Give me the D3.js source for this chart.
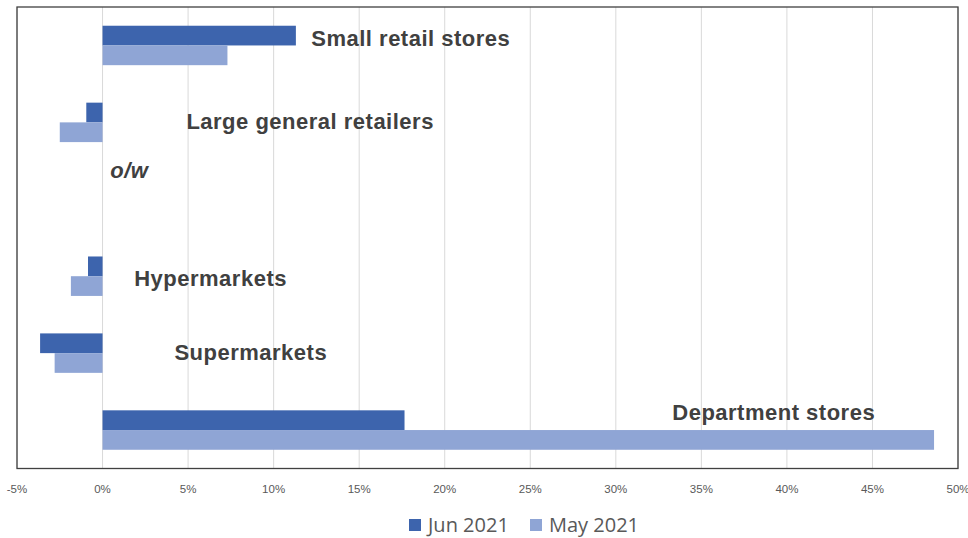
<!DOCTYPE html>
<html>
<head>
<meta charset="utf-8">
<script src="https://cdn.jsdelivr.net/npm/d3@7"></script>
<style>
  body { margin: 0; background: #fff; }
  svg { display: block; }
</style>
</head>
<body>
<div id="chart"></div>
<script>
// categories top to bottom (o/w is an empty row)
var categories = ["Small retail stores", "Large general retailers", "o/w", "Hypermarkets", "Supermarkets", "Department stores"];
var seriesNames = ["Jun 2021", "May 2021"];
var jun2021 = [11.3, -0.95, null, -0.85, -3.65, 17.65];
var may2021 = [7.3, -2.5, null, -1.85, -2.8, 48.6];
var xTicks = [-5, 0, 5, 10, 15, 20, 25, 30, 35, 40, 45, 50];

var colors = ["#3d64ad", "#8fa5d5"];

var width = 968, height = 538;
var margin = { top: 7, right: 10, bottom: 70, left: 17 };

var svg = d3.select("#chart").append("svg")
    .attr("width", width)
    .attr("height", height);

var x = d3.scaleLinear().domain([-5, 50]).range([margin.left, 958]);
var y = d3.scaleBand().domain(categories).range([margin.top, 468.5]);
var sub = d3.scaleBand().domain(seriesNames).range([0, y.bandwidth()]).paddingOuter(0.95);

// gridlines
svg.append("g").selectAll("line")
    .data(xTicks)
    .enter().append("line")
    .attr("x1", d => x(d)).attr("x2", d => x(d))
    .attr("y1", margin.top).attr("y2", 468.5)
    .attr("stroke", "#d9d9d9").attr("stroke-width", 1);

// bars
var series = [jun2021, may2021];
series.forEach(function(vals, si) {
    svg.append("g").selectAll("rect")
        .data(categories.map((c, i) => ({ c: c, v: vals[i] })).filter(d => d.v != null))
        .enter().append("rect")
        .attr("x", d => x(Math.min(0, d.v)))
        .attr("y", d => y(d.c) + sub(seriesNames[si]))
        .attr("width", d => Math.abs(x(d.v) - x(0)))
        .attr("height", sub.bandwidth())
        .attr("fill", colors[si]);
});

// plot frame
svg.append("rect")
    .attr("x", margin.left).attr("y", margin.top)
    .attr("width", 958 - margin.left).attr("height", 468.5 - margin.top)
    .attr("fill", "none").attr("stroke", "#404040").attr("stroke-width", 1.3);

// x axis labels
svg.append("g").selectAll("text")
    .data(xTicks)
    .enter().append("text")
    .attr("x", d => x(d))
    .attr("y", 493)
    .attr("text-anchor", "middle")
    .attr("font-family", "Liberation Sans, Arial, sans-serif")
    .attr("font-size", 11.5)
    .attr("fill", "#595959")
    .text(d => d + "%");

// category labels placed beside the bars (x in %, dy from band centre)
var labelPlace = {
    "Small retail stores": [12.2, 1],
    "Large general retailers": [4.9, 7],
    "o/w": [0.45, -21],
    "Hypermarkets": [1.85, 9.5],
    "Supermarkets": [4.2, 7],
    "Department stores": [33.3, -10]
};
svg.append("g").selectAll("text")
    .data(categories)
    .enter().append("text")
    .attr("x", d => x(labelPlace[d][0]))
    .attr("y", d => y(d) + y.bandwidth() / 2 + labelPlace[d][1])
    .attr("font-family", "Liberation Sans, Arial, sans-serif")
    .attr("font-size", 22)
    .attr("letter-spacing", 0.5)
    .attr("font-weight", "bold")
    .attr("font-style", d => d === "o/w" ? "italic" : "normal")
    .attr("fill", "#404040")
    .text(d => d);

// legend
var legend = svg.append("g").attr("transform", "translate(409,519)");
var lx = [0, 121];
seriesNames.forEach(function(s, i) {
    var g = legend.append("g").attr("transform", "translate(" + lx[i] + ",0)");
    g.append("rect").attr("width", 12).attr("height", 12).attr("fill", colors[i]);
    g.append("text")
        .attr("x", 19).attr("y", 12.5)
        .attr("font-family", "Open Sans, sans-serif")
        .attr("font-size", 20)
        .attr("fill", "#595959")
        .text(s);
});
</script>
</body>
</html>
